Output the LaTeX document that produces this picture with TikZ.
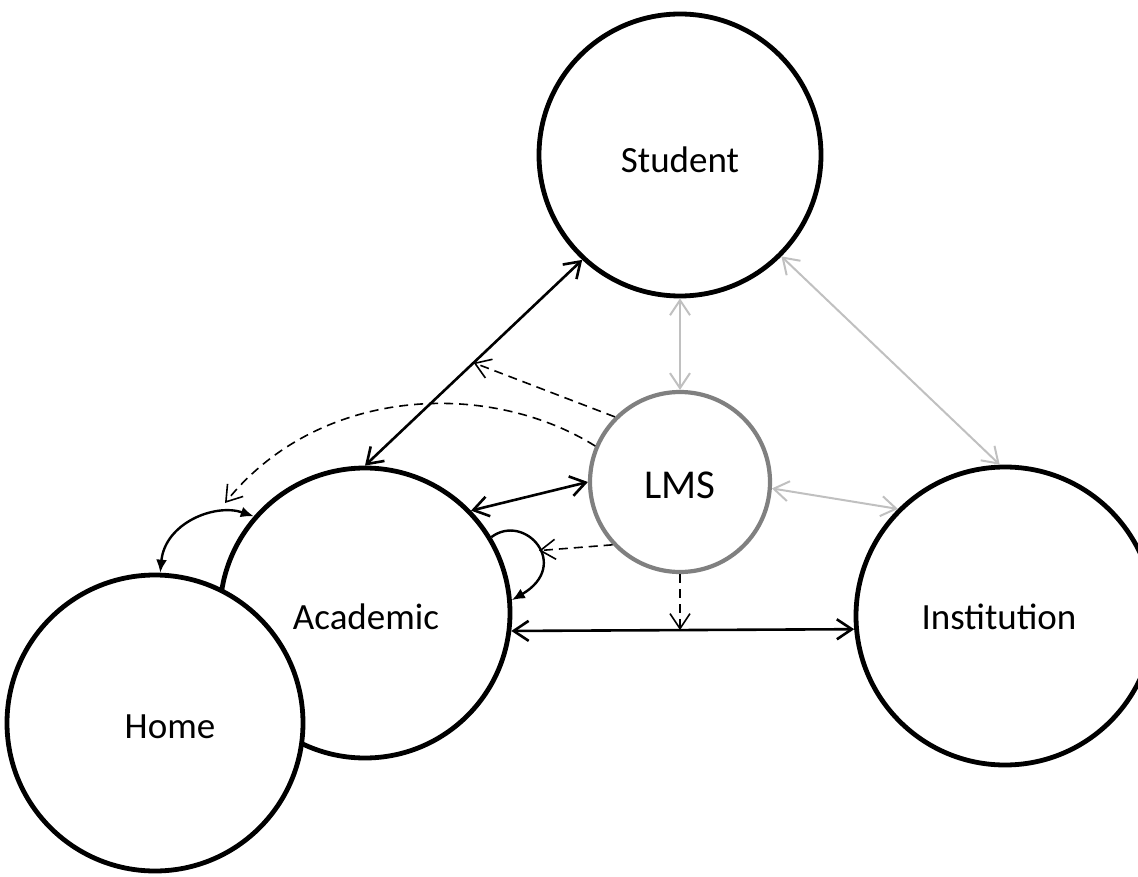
\documentclass[tikz,border=0pt]{standalone}
\usepackage{fontspec}
\setmainfont{Carlito}
\usetikzlibrary{arrows.meta,calc}
\definecolor{lgray}{RGB}{192,192,192}
\definecolor{mgray}{RGB}{128,128,128}
\tikzset{
  ent/.style={circle,draw=black,line width=4.8pt,fill=white,inner sep=0pt},
  lbl/.style={font=\fontsize{37}{40}\selectfont,inner sep=0pt},
  barb/.tip={Straight Barb[length=15pt,width=20pt]},
  fill tip/.tip={Latex[length=13pt,width=11pt]},
  strong/.style={line width=2.6pt,barb-barb},
  weak/.style={line width=2pt,lgray,barb-barb},
  influence/.style={line width=1.6pt,dash pattern=on 9pt off 6pt,-barb},
  flow/.style={line width=2.4pt},
}
\begin{document}
\begin{tikzpicture}[x=1pt,y=-1pt]
\useasboundingbox (0,0) rectangle (1138,877);
\node[ent,minimum size=282pt] (stu) at (680,155) {};
\node[ent,draw=mgray,line width=4.2pt,minimum size=180pt] (lms) at (680,482) {};
\node[ent,minimum size=290pt] (aca) at (365,613) {};
\node[ent,minimum size=296pt] (home) at (155,723) {};
\node[ent,minimum size=298pt] (ins) at (1005,616) {};
\node[lbl] (stuT) at (680,160) {Student};
\node[lbl,font=\fontsize{41}{44}\selectfont] (lmsT) at (680,485) {LMS};
\node[lbl] (acaT) at (366,617) {Academic};
\node[lbl] (homeT) at (170,727) {Home};
\node[lbl] (insT) at (999,617) {Institution};
% solid connectors
\draw[strong] (stu.227) -- coordinate[pos=0.5] (sa) (aca.90);
\draw[weak] (stu.270) -- (lms.90);
\draw[weak] (stu.315) -- (ins.92);
\draw[weak] (lms.356) -- (ins.135);
\draw[strong] (lms.180) -- (aca.44.5);
\draw[strong] (aca.-7) -- coordinate (ai) (ins.185.9);
% self loop on Academic
\draw[flow,-fill tip] (aca.31) .. controls (525,512) and (572,565) .. coordinate[pos=0.55] (loop) (aca.5);
% Home <-> Academic
\draw[flow,fill tip-fill tip] (aca.139.4) .. controls (215,503) and (165,523) .. (home.88);
% dashed influences from LMS
\coordinate (dtip) at (225,503);
\draw[influence] (lms.135) -- (sa);
\draw[influence] (lms.157) .. controls (490,380) and (320,385) .. (dtip);
\draw[influence] (lms.223) -- (loop);
\draw[influence] (lms.270) -- (lms.270 |- ai);
\end{tikzpicture}
\end{document}
